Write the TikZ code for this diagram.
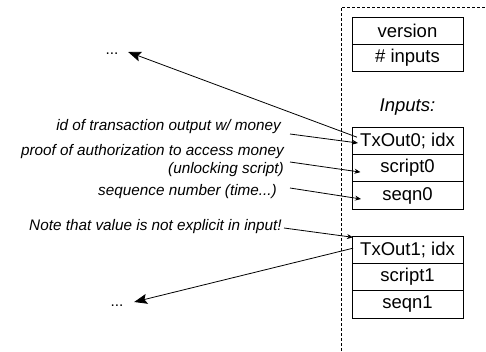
\documentclass[tikz,border=0pt]{standalone}
\usepackage{fontspec}
\setmainfont{Liberation Sans}
\usetikzlibrary{positioning,arrows.meta,calc}

\begin{document}
\begin{tikzpicture}[x=1pt,y=-1pt,
  field/.style={draw,rectangle,minimum width=111pt,minimum height=27.4pt,inner sep=0pt,outer sep=0pt,line width=0.9pt,font=\fontsize{18.5}{22}\selectfont},
  note/.style={anchor=east,align=right,inner sep=0pt,font=\fontsize{15.3}{18}\selectfont\itshape},
  dots/.style={inner sep=0pt,font=\fontsize{15.3}{18}\selectfont},
  pointer/.style={draw,line width=0.8pt,-{Stealth[length=6pt,width=5pt]}},
  jump/.style={draw,line width=0.8pt,-{Stealth[length=13pt,width=10pt,inset=2.5pt]}},
]
  \useasboundingbox (0,0) rectangle (486,351);

  % Transaction frame
  \draw[line width=0.8pt,dash pattern=on 3pt off 2pt] (341,351) -- (341,7) -- (486,7);

  % Header
  \node[field] (version) at (407.5,30.7) {version};
  \node[field,below=0pt of version] (ninputs) {\# inputs};

  % Inputs
  \node[font=\fontsize{18.5}{22}\selectfont\itshape] (inlabel) at (407.5,107) {Inputs:};
  \node[field] (txout0) at (407.5,140.7) {TxOut0; idx};
  \node[field,below=0pt of txout0] (script0) {script0};
  \node[field,below=0pt of script0] (seqn0) {seqn0};
  \node[field] (txout1) at (407.5,249.7) {TxOut1; idx};
  \node[field,below=0pt of txout1] (script1) {script1};
  \node[field,below=0pt of script1] (seqn1) {seqn1};

  % Notes
  \node[note] (idnote) at (281,127) {id of transaction output w/ money};
  \node[note] (proofnote) at (284,161) {proof of authorization to access money\\(unlocking script)};
  \node[note] (seqnote) at (277,192) {sequence number (time...)};
  \node[note] (valnote) at (282,227) {Note that value is not explicit in input!};

  % Previous transactions
  \node[dots] (dots0) at (112,54) {...};
  \node[dots] (dots1) at (117,306) {...};

  % Edges: references
  \draw[jump] ($(txout0.west)+(5,-3.5)$) -- ($(dots0.east)+(9.6,-2)$);
  \draw[jump] ($(txout1.west)+(1,-1.5)$) -- ($(dots1.east)+(10.6,-4)$);

  % Edges: notes
  \draw[pointer] ($(idnote.east)+(9,7)$) -- ($(txout0.west)+(6,2.3)$);
  \draw[pointer] ($(proofnote.east)+(6,1)$) -- ($(script0.west)+(8.5,4)$);
  \draw[pointer] ($(seqnote.east)+(13,-4)$) -- ($(seqn0.west)+(9,3.5)$);
  \draw[pointer] ($(valnote.east)+(2,1)$) -- ($(txout1.north west)+(1,1.3)$);
\end{tikzpicture}
\end{document}
